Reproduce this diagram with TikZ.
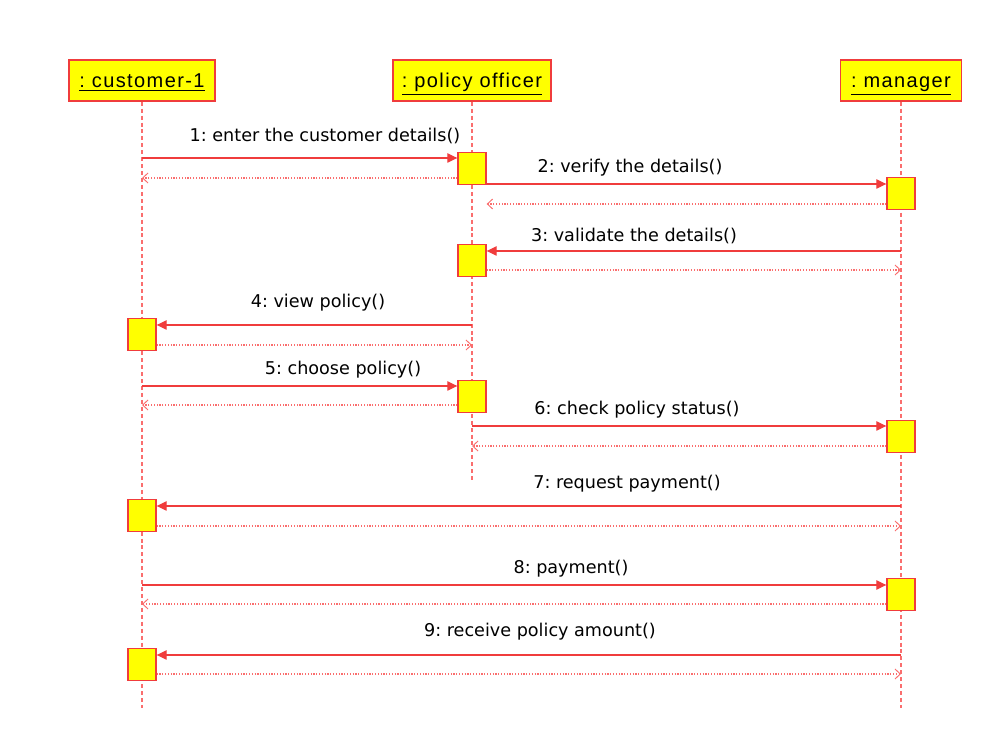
\documentclass[tikz,border=0pt]{standalone}
\usepackage{fontspec}
\setmainfont{Liberation Sans}
\newfontfamily\msgfont{DejaVu Sans}
\usetikzlibrary{arrows.meta, positioning}
\definecolor{umlred}{RGB}{240,60,60}
\definecolor{umlpink}{RGB}{250,110,110}
\definecolor{umlyellow}{RGB}{255,255,0}
\frenchspacing
\tikzset{
    x=0.75pt, y=-0.75pt, % one unit is one pixel of the reference
    object/.style={draw=umlred, fill=umlyellow, line width=1.1pt, minimum height=30.75pt,
        inner sep=0pt, text height=12pt, text depth=1pt,
        font=\fontsize{15}{17}\selectfont\addfontfeature{LetterSpace=7}},
    act/.style={draw=umlred, fill=umlyellow, line width=1pt, minimum width=21pt,
        minimum height=24pt, inner sep=0pt, anchor=north},
    lifeline/.style={draw=umlpink, line width=1pt, dash pattern=on 3pt off 2.2pt},
    call/.style={draw=umlred, line width=0.9pt, -{Triangle[length=7.5pt, width=7pt]}},
    reply/.style={draw=umlpink, line width=0.8pt, dash pattern=on 0.9pt off 1.2pt,
        -{Straight Barb[length=4pt, width=7.5pt, line width=0.7pt]}},
    msg/.style={font=\msgfont\fontsize{13.2}{15}\selectfont, inner sep=1pt},
}
\begin{document}
\begin{tikzpicture}
\useasboundingbox (0,0) rectangle (990,737);
% objects
\node[object, minimum width=109.5pt] (cust) at (142,80.5) {\underline{: customer-1}};
\node[object, minimum width=118.5pt] (off) at (472,80.5) {\underline{: policy officer}};
\node[object, minimum width=90.75pt] (man) at (901,80.5) {\underline{: manager}};
% lifelines
\draw[lifeline] (cust.south) -- (cust |- 0,708);
\draw[lifeline] (off.south) -- (off |- 0,480);
\draw[lifeline] (man.south) -- (man |- 0,708);
% activations
\node[act] (a1) at (off |- 0,152) {};
\node[act] (a2) at (man |- 0,177) {};
\node[act] (a3) at (off |- 0,244) {};
\node[act] (a4) at (cust |- 0,318) {};
\node[act] (a5) at (off |- 0,380) {};
\node[act] (a6) at (man |- 0,420) {};
\node[act] (a7) at (cust |- 0,499) {};
\node[act] (a8) at (man |- 0,578) {};
\node[act] (a9) at (cust |- 0,648) {};
% messages
\draw[call] (cust |- 0,158) -- (a1.west |- 0,158);
\draw[reply] (a1.west |- 0,178) -- (cust |- 0,178);
\node[msg] (m1) at (325,136) {1: enter the customer details()};
\draw[call] (a1.east |- 0,184) -- (a2.west |- 0,184);
\draw[reply] (a2.west |- 0,204) -- (a1.east |- 0,204);
\node[msg] (m2) at (630,168) {2: verify the details()};
\draw[call] (man |- 0,251) -- (a3.east |- 0,251);
\draw[reply] (a3.east |- 0,270) -- (man |- 0,270);
\node[msg] (m3) at (634,236) {3: validate the details()};
\draw[call] (off |- 0,325) -- (a4.east |- 0,325);
\draw[reply] (a4.east |- 0,345) -- (off |- 0,345);
\node[msg] (m4) at (318,303) {4: view policy()};
\draw[call] (cust |- 0,386) -- (a5.west |- 0,386);
\draw[reply] (a5.west |- 0,405) -- (cust |- 0,405);
\node[msg] (m5) at (343,370) {5: choose policy()};
\draw[call] (off |- 0,426) -- (a6.west |- 0,426);
\draw[reply] (a6.west |- 0,446) -- (off |- 0,446);
\node[msg] (m6) at (637,410) {6: check policy status()};
\draw[call] (man |- 0,506) -- (a7.east |- 0,506);
\draw[reply] (a7.east |- 0,526) -- (man |- 0,526);
\node[msg] (m7) at (627,484) {7: request payment()};
\draw[call] (cust |- 0,585) -- (a8.west |- 0,585);
\draw[reply] (a8.west |- 0,604) -- (cust |- 0,604);
\node[msg] (m8) at (571,569) {8: payment()};
\draw[call] (man |- 0,655) -- (a9.east |- 0,655);
\draw[reply] (a9.east |- 0,674) -- (man |- 0,674);
\node[msg] (m9) at (540,632) {9: receive policy amount()};
\end{tikzpicture}
\end{document}
